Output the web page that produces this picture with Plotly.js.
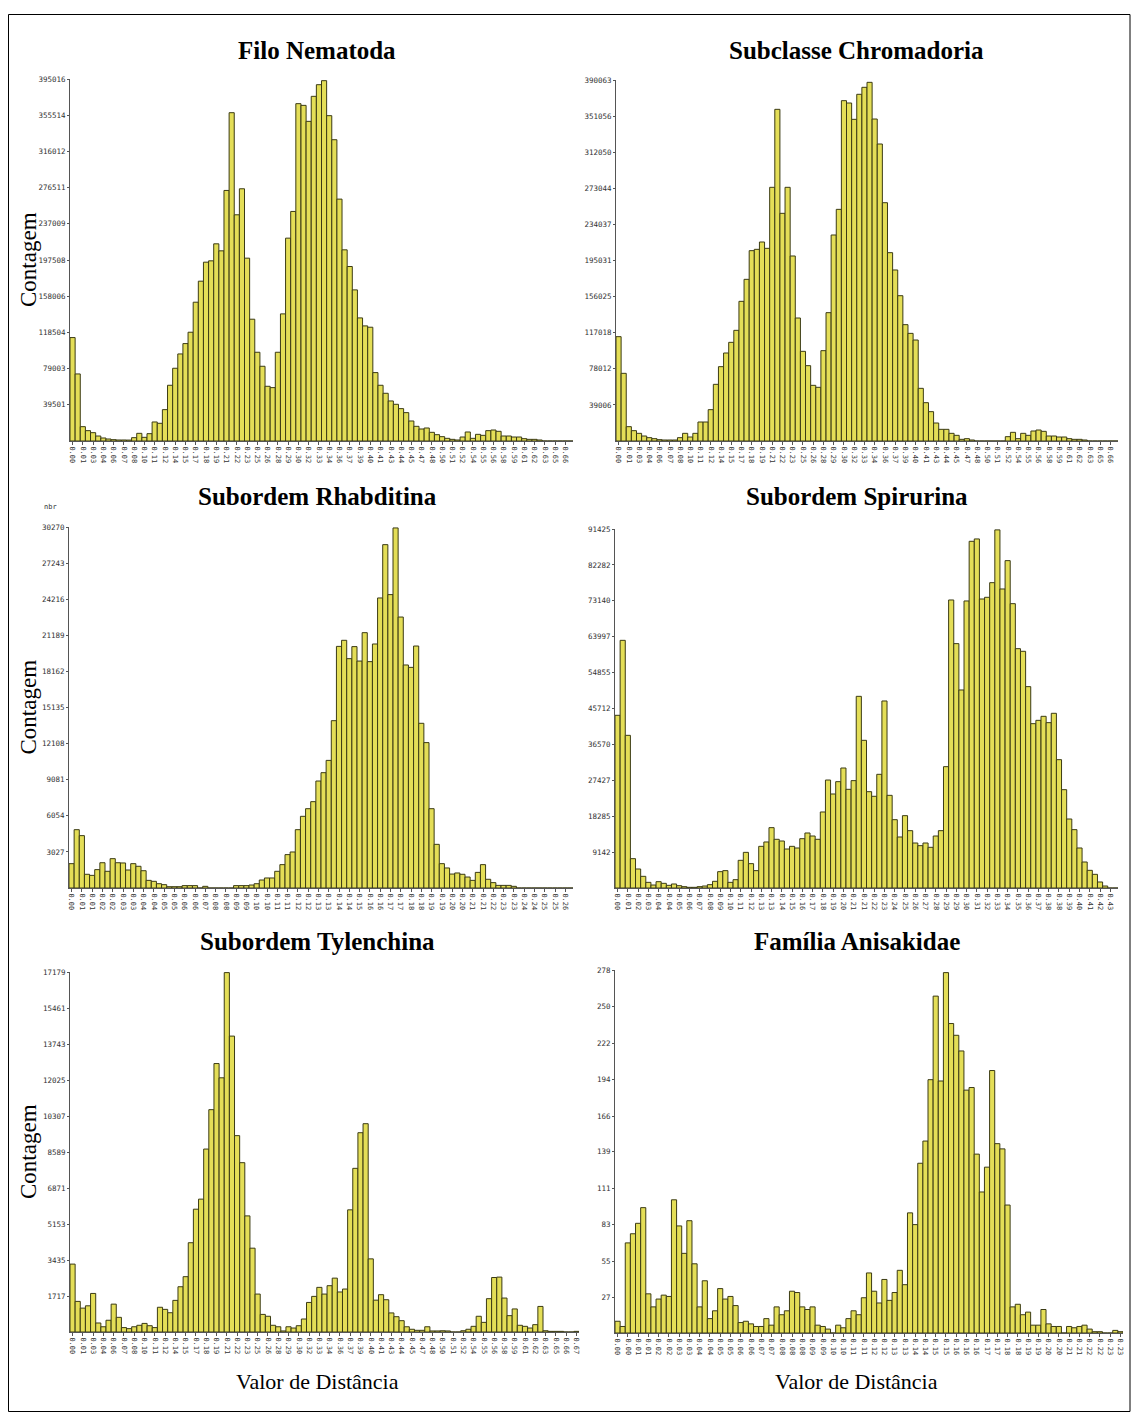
<!DOCTYPE html>
<html>
<head>
<meta charset="utf-8">
<script src="https://cdn.plot.ly/plotly-3.0.1.min.js"></script>
<style>
  html, body { margin: 0; padding: 0; background: #fff; }
  #chart { width: 1131px; height: 1412px; }
</style>
</head>
<body>
<div id="chart"></div>
<script>
// ---------------- DATA ----------------
const nematodaCounts = [112860,73180,15650,11290,9100,5460,3280,2180,1460,1100,
  1100,1000,3640,8370,4000,8000,20750,19300,34220,60800,
  79370,95000,106300,118700,151450,174400,195130,196600,215160,207500,
  273400,358240,246840,275230,199500,132900,96840,81550,59700,58250,
  96840,138700,221350,250500,368100,366250,348800,376100,388800,393200,
  355000,328750,263950,208600,190400,164900,134300,125600,124150,74640,
  60800,52060,43690,40050,35310,30950,21840,16020,13100,14200,
  9470,6900,4730,2900,1800,1100,4370,9830,2900,7280,
  6190,11290,12000,10560,5460,5460,4370,4370,2550,1800,
  1800,1100,0,0,0,0,0,0];
const nematodaXLabels = ["0.00","0.01","0.03","0.04","0.06","0.07","0.08","0.10","0.11","0.12",
  "0.14","0.15","0.17","0.18","0.19","0.21","0.22","0.23","0.25","0.26",
  "0.28","0.29","0.30","0.32","0.33","0.34","0.36","0.37","0.39","0.40",
  "0.41","0.43","0.44","0.45","0.47","0.48","0.50","0.51","0.52","0.54",
  "0.55","0.56","0.58","0.59","0.61","0.62","0.63","0.65","0.66"];
const nematodaYLabels = ["39501","79003","118504","158006","197508","237009","276511","316012","355514","395016"];

const chromadoriaCounts = [112730,73110,15490,11160,8280,5400,3600,2520,1440,1080,
  1080,1080,3600,8280,4320,8280,20530,20530,33850,61230,
  80310,95090,106600,119580,150900,174680,205660,207100,215020,208180,
  274100,358370,246000,274100,199900,132900,96890,81400,60150,58000,
  97600,138670,222600,250300,367730,365200,347560,374600,382150,387550,
  347900,320900,257500,203500,184800,157000,125700,116300,109100,56900,
  41400,31700,19450,12600,12600,8280,6120,1800,2520,1080,
  0,0,0,0,0,0,4680,9360,2520,8280,
  6120,10800,11880,10440,5400,5400,4320,4320,2520,1800,
  1800,1080,0,0,0,0,0,0];
const chromadoriaXLabels = ["0.00","0.01","0.03","0.04","0.06","0.07","0.08","0.10","0.11","0.12",
  "0.14","0.15","0.17","0.18","0.19","0.21","0.22","0.23","0.25","0.26",
  "0.28","0.29","0.30","0.32","0.33","0.34","0.36","0.37","0.39","0.40",
  "0.41","0.43","0.44","0.45","0.47","0.48","0.50","0.51","0.52","0.54",
  "0.55","0.56","0.58","0.59","0.61","0.62","0.63","0.65","0.66"];
const chromadoriaYLabels = ["39006","78012","117018","156025","195031","234037","273044","312050","351056","390063"];

const rhabditinaCounts = [2040,4890,4390,1150,1060,1540,2120,1400,2460,2120,
  2100,1510,2040,1820,1450,640,560,360,280,110,
  110,110,200,200,200,0,140,0,0,0,
  0,0,200,200,200,250,360,670,840,840,
  1400,1960,2800,3020,4890,6010,6650,7240,8970,9670,
  10700,14030,20260,20770,19230,20240,19030,21410,18980,20460,
  24320,28790,24600,30190,22720,18700,18500,20290,13810,12190,
  6650,3660,2040,1680,1170,1260,1150,920,640,1310,
  1960,730,450,220,220,220,140,0,0,0,
  0,0,0,0,0,0,0,0];
const rhabditinaXLabels = ["0.00","0.01","0.01","0.02","0.02","0.03","0.03","0.04","0.04","0.05",
  "0.05","0.06","0.06","0.07","0.08","0.08","0.09","0.09","0.10","0.10",
  "0.11","0.11","0.12","0.12","0.13","0.13","0.14","0.14","0.15","0.16",
  "0.16","0.17","0.17","0.18","0.18","0.19","0.19","0.20","0.20","0.21",
  "0.21","0.22","0.23","0.23","0.24","0.24","0.25","0.25","0.26"];
const rhabditinaYLabels = ["3027","6054","9081","12108","15135","18162","21189","24216","27243","30270"];

const spirurinaCounts = [43980,63070,38880,7470,4840,2970,1440,760,1610,1190,
  680,1020,590,340,170,170,340,510,850,1700,
  4160,4420,1440,2120,7050,9080,6200,4420,10610,11720,
  15370,12400,11970,9930,10610,10190,12560,14010,13240,12400,
  19360,27500,23940,27080,30560,25130,27340,48810,37610,24530,
  23350,28950,47630,23600,17400,12990,18420,14600,11460,10780,
  11460,10360,13240,14600,30900,73350,62230,50430,73100,88290,
  88890,73600,74030,77760,91200,76150,83370,72410,60950,60280,
  51280,41850,42700,43720,42110,44490,32680,25040,17570,14860,
  10190,6620,4500,3480,1530,510,0,0];
const spirurinaXLabels = ["0.00","0.01","0.02","0.03","0.04","0.04","0.05","0.06","0.07","0.08",
  "0.09","0.10","0.11","0.12","0.13","0.13","0.14","0.15","0.16","0.17",
  "0.18","0.19","0.20","0.21","0.21","0.22","0.23","0.24","0.25","0.26",
  "0.27","0.28","0.29","0.29","0.30","0.31","0.32","0.33","0.34","0.35",
  "0.36","0.37","0.38","0.38","0.39","0.40","0.41","0.42","0.43"];
const spirurinaYLabels = ["9142","18285","27427","36570","45712","54855","63997","73140","82282","91425"];

const tylenchinaCounts = [3240,1460,1140,1250,1840,430,250,560,1330,700,
  210,160,250,320,410,300,210,1180,1080,920,
  1510,2160,2640,4260,5860,6340,8730,10610,12810,12130,
  17150,14120,9370,8080,5540,4000,1810,840,750,320,
  250,50,250,190,300,620,1410,1700,2130,1810,
  2210,2570,1910,2050,5830,7810,9510,9940,3490,1520,
  1780,1540,910,730,540,250,130,80,80,250,
  50,50,60,50,0,0,60,130,270,750,
  460,1590,2600,2620,1620,780,1100,320,270,190,
  350,1220,60,30,30,30,0,0,30];
const tylenchinaXLabels = ["0.00","0.01","0.03","0.04","0.06","0.07","0.08","0.10","0.11","0.12",
  "0.14","0.15","0.17","0.18","0.19","0.21","0.22","0.23","0.25","0.26",
  "0.28","0.29","0.30","0.32","0.33","0.34","0.36","0.37","0.39","0.40",
  "0.41","0.43","0.44","0.45","0.47","0.48","0.50","0.51","0.52","0.54",
  "0.55","0.56","0.58","0.59","0.61","0.62","0.63","0.65","0.66","0.67"];
const tylenchinaYLabels = ["1717","3435","5153","6871","8589","10307","12025","13743","15461","17179"];

const anisakidaeCounts = [9,5,69,76,84,96,30,20,26,29,
  28,102,82,61,86,53,20,40,11,17,
  34,26,28,21,8,9,7,5,5,11,
  6,20,14,17,32,31,20,18,20,6,
  5,3,0,6,4,11,17,14,27,46,
  32,23,41,25,31,48,37,92,83,130,
  147,194,258,193,276,237,228,216,186,188,
  137,108,127,201,145,141,98,20,22,14,
  16,6,6,18,7,5,5,0,5,4,
  5,6,3,1,1,0,0,2,1];
const anisakidaeXLabels = ["0.00","0.00","0.01","0.01","0.02","0.02","0.03","0.03","0.04","0.04",
  "0.05","0.05","0.06","0.06","0.07","0.07","0.08","0.08","0.08","0.09",
  "0.09","0.10","0.10","0.11","0.11","0.12","0.12","0.13","0.13","0.14",
  "0.14","0.15","0.15","0.16","0.16","0.16","0.17","0.17","0.18","0.18",
  "0.19","0.19","0.20","0.20","0.21","0.21","0.22","0.22","0.23","0.23"];
const anisakidaeYLabels = ["27","55","83","111","139","166","194","222","250","278"];

const panelTitles = ["Filo Nematoda","Subclasse Chromadoria","Subordem Rhabditina",
  "Subordem Spirurina","Subordem Tylenchina","Família Anisakidae"];
const yTitle = "Contagem";
const xTitle = "Valor de Distância";

// ---------------- LAYOUT (pixels) ----------------
const W = 1131, H = 1412;
const panels = [
  {counts: nematodaCounts,    xl: nematodaXLabels,    yl: nematodaYLabels,    px: [70, 573],  py: [441, 79],   tx: 317, ty: 50},
  {counts: chromadoriaCounts, xl: chromadoriaXLabels, yl: chromadoriaYLabels, px: [616, 1118], py: [441, 80],  tx: 857, ty: 50},
  {counts: rhabditinaCounts,  xl: rhabditinaXLabels,  yl: rhabditinaYLabels,  px: [69, 573],  py: [888, 527],  tx: 317, ty: 496},
  {counts: spirurinaCounts,   xl: spirurinaXLabels,   yl: spirurinaYLabels,   px: [615, 1118], py: [888, 529], tx: 857, ty: 496},
  {counts: tylenchinaCounts,  xl: tylenchinaXLabels,  yl: tylenchinaYLabels,  px: [70, 579],  py: [1332, 972], tx: 317, ty: 941},
  {counts: anisakidaeCounts,  xl: anisakidaeXLabels,  yl: anisakidaeYLabels,  px: [615, 1123], py: [1333, 970], tx: 857, ty: 941}
];

const fx = p => p / W;
const fy = p => 1 - p / H;

const traces = [];
const layout = {
  width: W, height: H,
  margin: {l: 0, r: 0, t: 0, b: 0},
  paper_bgcolor: '#ffffff', plot_bgcolor: '#ffffff',
  showlegend: false, bargap: 0,
  annotations: [], shapes: []
};

const tickFont = {family: 'DejaVu Sans Mono, monospace', size: 7, color: '#333'};

panels.forEach((p, k) => {
  const n = k + 1;
  const xa = n === 1 ? 'x' : 'x' + n;
  const ya = n === 1 ? 'y' : 'y' + n;
  traces.push({
    type: 'bar',
    x: p.counts.map((_, i) => i),
    y: p.counts,
    xaxis: xa, yaxis: ya,
    marker: {color: '#e4de57', line: {color: '#3b3b14', width: 1}},
    hoverinfo: 'y'
  });
  layout['xaxis' + (n === 1 ? '' : n)] = {
    domain: [fx(p.px[0]), fx(p.px[1])],
    anchor: ya,
    range: [-0.5, p.counts.length - 0.5],
    tickmode: 'array',
    tickvals: p.xl.map((_, i) => 2 * i),
    ticktext: p.xl,
    tickangle: 90,
    tickfont: tickFont,
    ticks: 'outside', ticklen: 3, tickcolor: '#555', tickwidth: 1,
    showline: true, linecolor: '#555', linewidth: 1,
    showgrid: false, zeroline: false, fixedrange: true
  };
  layout['yaxis' + (n === 1 ? '' : n)] = {
    domain: [fy(p.py[0]), fy(p.py[1])],
    anchor: xa,
    range: [0, Number(p.yl[p.yl.length - 1])],
    tickmode: 'array',
    tickvals: p.yl.map(Number),
    ticktext: p.yl,
    tickfont: {family: 'DejaVu Sans Mono, monospace', size: 7.5, color: '#333'},
    ticks: 'outside', ticklen: 2, tickcolor: '#555', tickwidth: 1,
    showline: true, linecolor: '#555', linewidth: 1,
    showgrid: false, zeroline: false, fixedrange: true
  };
  layout.annotations.push({
    text: '<b>' + panelTitles[k] + '</b>',
    xref: 'paper', yref: 'paper', x: fx(p.tx), y: fy(p.ty),
    xanchor: 'center', yanchor: 'middle', showarrow: false,
    font: {family: 'Liberation Serif, Times New Roman, serif', size: 25, color: '#000'}
  });
  if (k % 2 === 0) {
    layout.annotations.push({
      text: yTitle, textangle: -90,
      xref: 'paper', yref: 'paper', x: fx(28), y: fy((p.py[0] + p.py[1]) / 2),
      xanchor: 'center', yanchor: 'middle', showarrow: false,
      font: {family: 'Liberation Serif, Times New Roman, serif', size: 23, color: '#000'}
    });
  }
  if (k >= 4) {
    layout.annotations.push({
      text: xTitle,
      xref: 'paper', yref: 'paper', x: fx(p.tx), y: fy(1381),
      xanchor: 'center', yanchor: 'middle', showarrow: false,
      font: {family: 'Liberation Serif, Times New Roman, serif', size: 22, color: '#000'}
    });
  }
});

layout.annotations.push({
  text: 'nbr', xref: 'paper', yref: 'paper', x: fx(42), y: fy(507),
  xanchor: 'left', yanchor: 'middle', showarrow: false,
  font: {family: 'DejaVu Sans Mono, monospace', size: 7, color: '#333'}
});

layout.shapes.push({
  type: 'rect', xref: 'paper', yref: 'paper',
  x0: fx(8.5), x1: fx(1130), y0: fy(1411.5), y1: fy(14.5),
  line: {color: '#000', width: 1}, fillcolor: 'rgba(0,0,0,0)'
});

Plotly.newPlot('chart', traces, layout, {displayModeBar: false, staticPlot: true});
</script>
</body>
</html>
